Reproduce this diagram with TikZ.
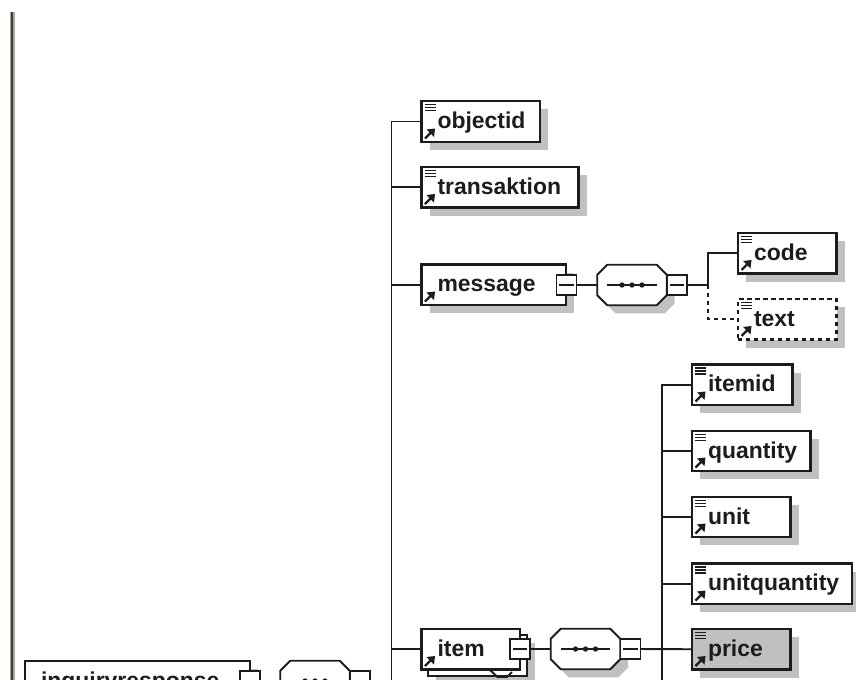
\documentclass[tikz,border=0pt]{standalone}
\usepackage{fontspec}
\setmainfont{Liberation Sans}
\usetikzlibrary{shadows}
\definecolor{shadowgray}{HTML}{C0C0C0}
\definecolor{inkdark}{HTML}{1C1C1C}
\definecolor{rulehalo}{HTML}{A8A89C}
\tikzset{
  withshadow/.style={general shadow={fill=shadowgray,shadow xshift=6pt,shadow yshift=-6pt}},
  boxshadow/.style={withshadow},
  elembox/.style={draw=inkdark,line width=1.55pt,fill=white,rectangle,outer sep=0pt,inner xsep=12pt,inner ysep=0pt,
    align=left,font=\fontsize{17.2}{20}\selectfont\bfseries,text=inkdark,text height=12.5pt,text depth=2pt},
  optionalbox/.style={dash pattern=on 3.2pt off 2.8pt},
  grayfill/.style={fill=shadowgray},
  collapsebox/.style={draw=inkdark,line width=1.4pt,fill=white,rectangle,outer sep=0pt,inner sep=0pt,minimum width=15pt,minimum height=15pt},
  seqanchor/.style={rectangle,outer sep=0pt,inner sep=0pt,minimum width=52pt,minimum height=30.5pt},
  octaline/.style={draw=inkdark,line width=1.4pt,fill=white},
  conn/.style={draw=inkdark,line width=1.45pt},
  thinline/.style={draw=inkdark,line width=1.1pt},
  dashconn/.style={conn,dash pattern=on 3.2pt off 2.8pt},
}
% name, x1, x2, y1, y2, text, extra options
\newcommand\elemnode[7]{%
  \pgfmathsetmacro\elemw{(#3-#2)*.75}%
  \pgfmathsetmacro\elemh{(#5-#4)*.75}%
  \pgfmathsetmacro\elemt{(#3-#2-32)*.75}%
  \node[elembox,minimum width=\elemw pt,minimum height=\elemh pt,text width=\elemt pt,#7,boxshadow] (#1) at ({(#2+#3)/2},{(#4+#5)/2}) {#6};}
\newcommand\stackicon[1]{%
  \foreach \iconrow in {3.7,6.7,9.7}{\draw[thinline] ([shift={(3,\iconrow)}]#1.north west) -- ([shift={(14,\iconrow)}]#1.north west);}}
\newcommand\refarrow[1]{%
  \draw[inkdark,line width=1.7pt] ([shift={(3.5,-3.5)}]#1.south west) -- ([shift={(10,-10)}]#1.south west);
  \fill[inkdark] ([shift={(13.5,-13.5)}]#1.south west) -- ([shift={(5,-12.5)}]#1.south west) -- ([shift={(12.5,-5)}]#1.south west) -- cycle;}
\newcommand\collapse[3]{%
  \node[collapsebox] (#1) at (#2,#3) {};
  \draw[thinline] ([xshift=2.2pt]#1.west) -- ([xshift=-2.2pt]#1.east);}
% octagon outline of half size 34.7 x 20.3 px with 10 px corners
\newcommand\octagon[2]{%
  (#1)++(-34.7,-10.3) -- ++(10,-10) -- ++(49.4,0) -- ++(10,10) -- ++(0,20.6) -- ++(-10,10) -- ++(-49.4,0) -- ++(-10,-10) -- cycle}
\newcommand\seqnode[3]{%
  \node[seqanchor] (#1) at (#2,#3) {};
  \coordinate (#1shadow) at ([shift={(8,8)}]#1.center);
  \fill[shadowgray] \octagon{#1shadow}{};
  \draw[octaline] \octagon{#1.center}{};
  \draw[thinline] ([xshift=7.5pt]#1.west) -- ([xshift=-7.5pt]#1.east);
  \foreach \dotx in {-7.5pt,0pt,7.5pt}{\fill[inkdark] ([xshift=\dotx]#1.center) circle[radius=2pt];}}
\begin{document}
\begin{tikzpicture}[x=.75pt,y=-.75pt]
\path[use as bounding box,clip] (0,0) rectangle (856,679);
\fill[white] (0,0) rectangle (856,679);
% left rule
\coordinate (ruletop) at (12.3,12);
\coordinate (rulebottom) at (12.3,690);
\draw[rulehalo,line width=3.4pt] (ruletop) -- (rulebottom);
\draw[inkdark!85,line width=1.6pt] (ruletop) -- (rulebottom);
% trunks
\coordinate (trunkend) at (391.5,700);
\coordinate (itemtrunkend) at (662,700);
\coordinate (msgbranch) at (708,285);
% top level elements
\elemnode{objectid}{421.5}{540}{101}{142}{objectid}{}
\elemnode{transaktion}{421.5}{578.5}{167}{207.5}{transaktion}{}
\elemnode{message}{421.5}{566}{264.5}{305}{message}{}
\elemnode{code}{738}{836.5}{233}{273.5}{code}{}
\elemnode{text}{738}{836.5}{299}{339.5}{text}{optionalbox}
% item fields
\elemnode{itemid}{692}{792.5}{364.5}{405}{itemid}{}
\elemnode{quantity}{692}{810.5}{431}{471}{quantity}{}
\elemnode{unit}{692}{790.5}{497}{537}{unit}{}
\elemnode{unitquantity}{692}{852}{563.5}{604}{unitquantity}{}
\elemnode{price}{692}{790.5}{629}{669.5}{price}{grayfill}
% item, repeated
\elemnode{itemback}{428}{527}{635}{676}{}{}
\elemnode{item}{421.5}{520}{629}{669.5}{item}{boxshadow/.style={}}
% fragment below item
\draw[conn] (490,670) -- (497.5,677) -- (507,677) -- (512,672);
% root element
\elemnode{root}{25}{250}{661}{702}{inquiryresponse}{}
% collapse boxes and sequence symbols
\collapse{messageminus}{566.5}{285}
\seqnode{messageseq}{632}{285}
\collapse{messageseqminus}{677}{285}
\collapse{itemminus}{520}{649}
\seqnode{itemseq}{585.5}{649}
\collapse{itemseqminus}{630.5}{649}
\collapse{rootminus}{250}{681}
\seqnode{rootseq}{315}{681}
\collapse{rootseqminus}{359.7}{681}
% icons
\foreach \n in {objectid,transaktion,code,text,itemid,quantity,unit,unitquantity,price}{\stackicon{\n}}
\foreach \n in {objectid,transaktion,message,code,text,itemid,quantity,unit,unitquantity,price,item}{\refarrow{\n}}
% connectors
\draw[conn] (objectid.west) -| (trunkend);
\draw[conn] (transaktion.west) -- (transaktion.west -| trunkend);
\draw[conn] (message.west) -- (message.west -| trunkend);
\draw[conn] (item.west) -- (item.west -| trunkend);
\draw[conn] (rootseqminus.east) -- (rootseqminus.east -| trunkend);
\draw[conn] (rootminus.east) -- (rootseq.west);
\draw[conn] (messageminus.east) -- (messageseq.west);
\draw[conn] (messageseqminus.east) -- (msgbranch);
\draw[conn] (msgbranch) |- (code.west);
\draw[dashconn] (msgbranch) |- (text.west);
\draw[conn] (itemminus.east) -- (itemseq.west);
\draw[conn] (itemseqminus.east) -- (price.west);
\draw[conn] (itemid.west) -| (itemtrunkend);
\draw[conn] (quantity.west) -- (quantity.west -| itemtrunkend);
\draw[conn] (unit.west) -- (unit.west -| itemtrunkend);
\draw[conn] (unitquantity.west) -- (unitquantity.west -| itemtrunkend);
\end{tikzpicture}
\end{document}
